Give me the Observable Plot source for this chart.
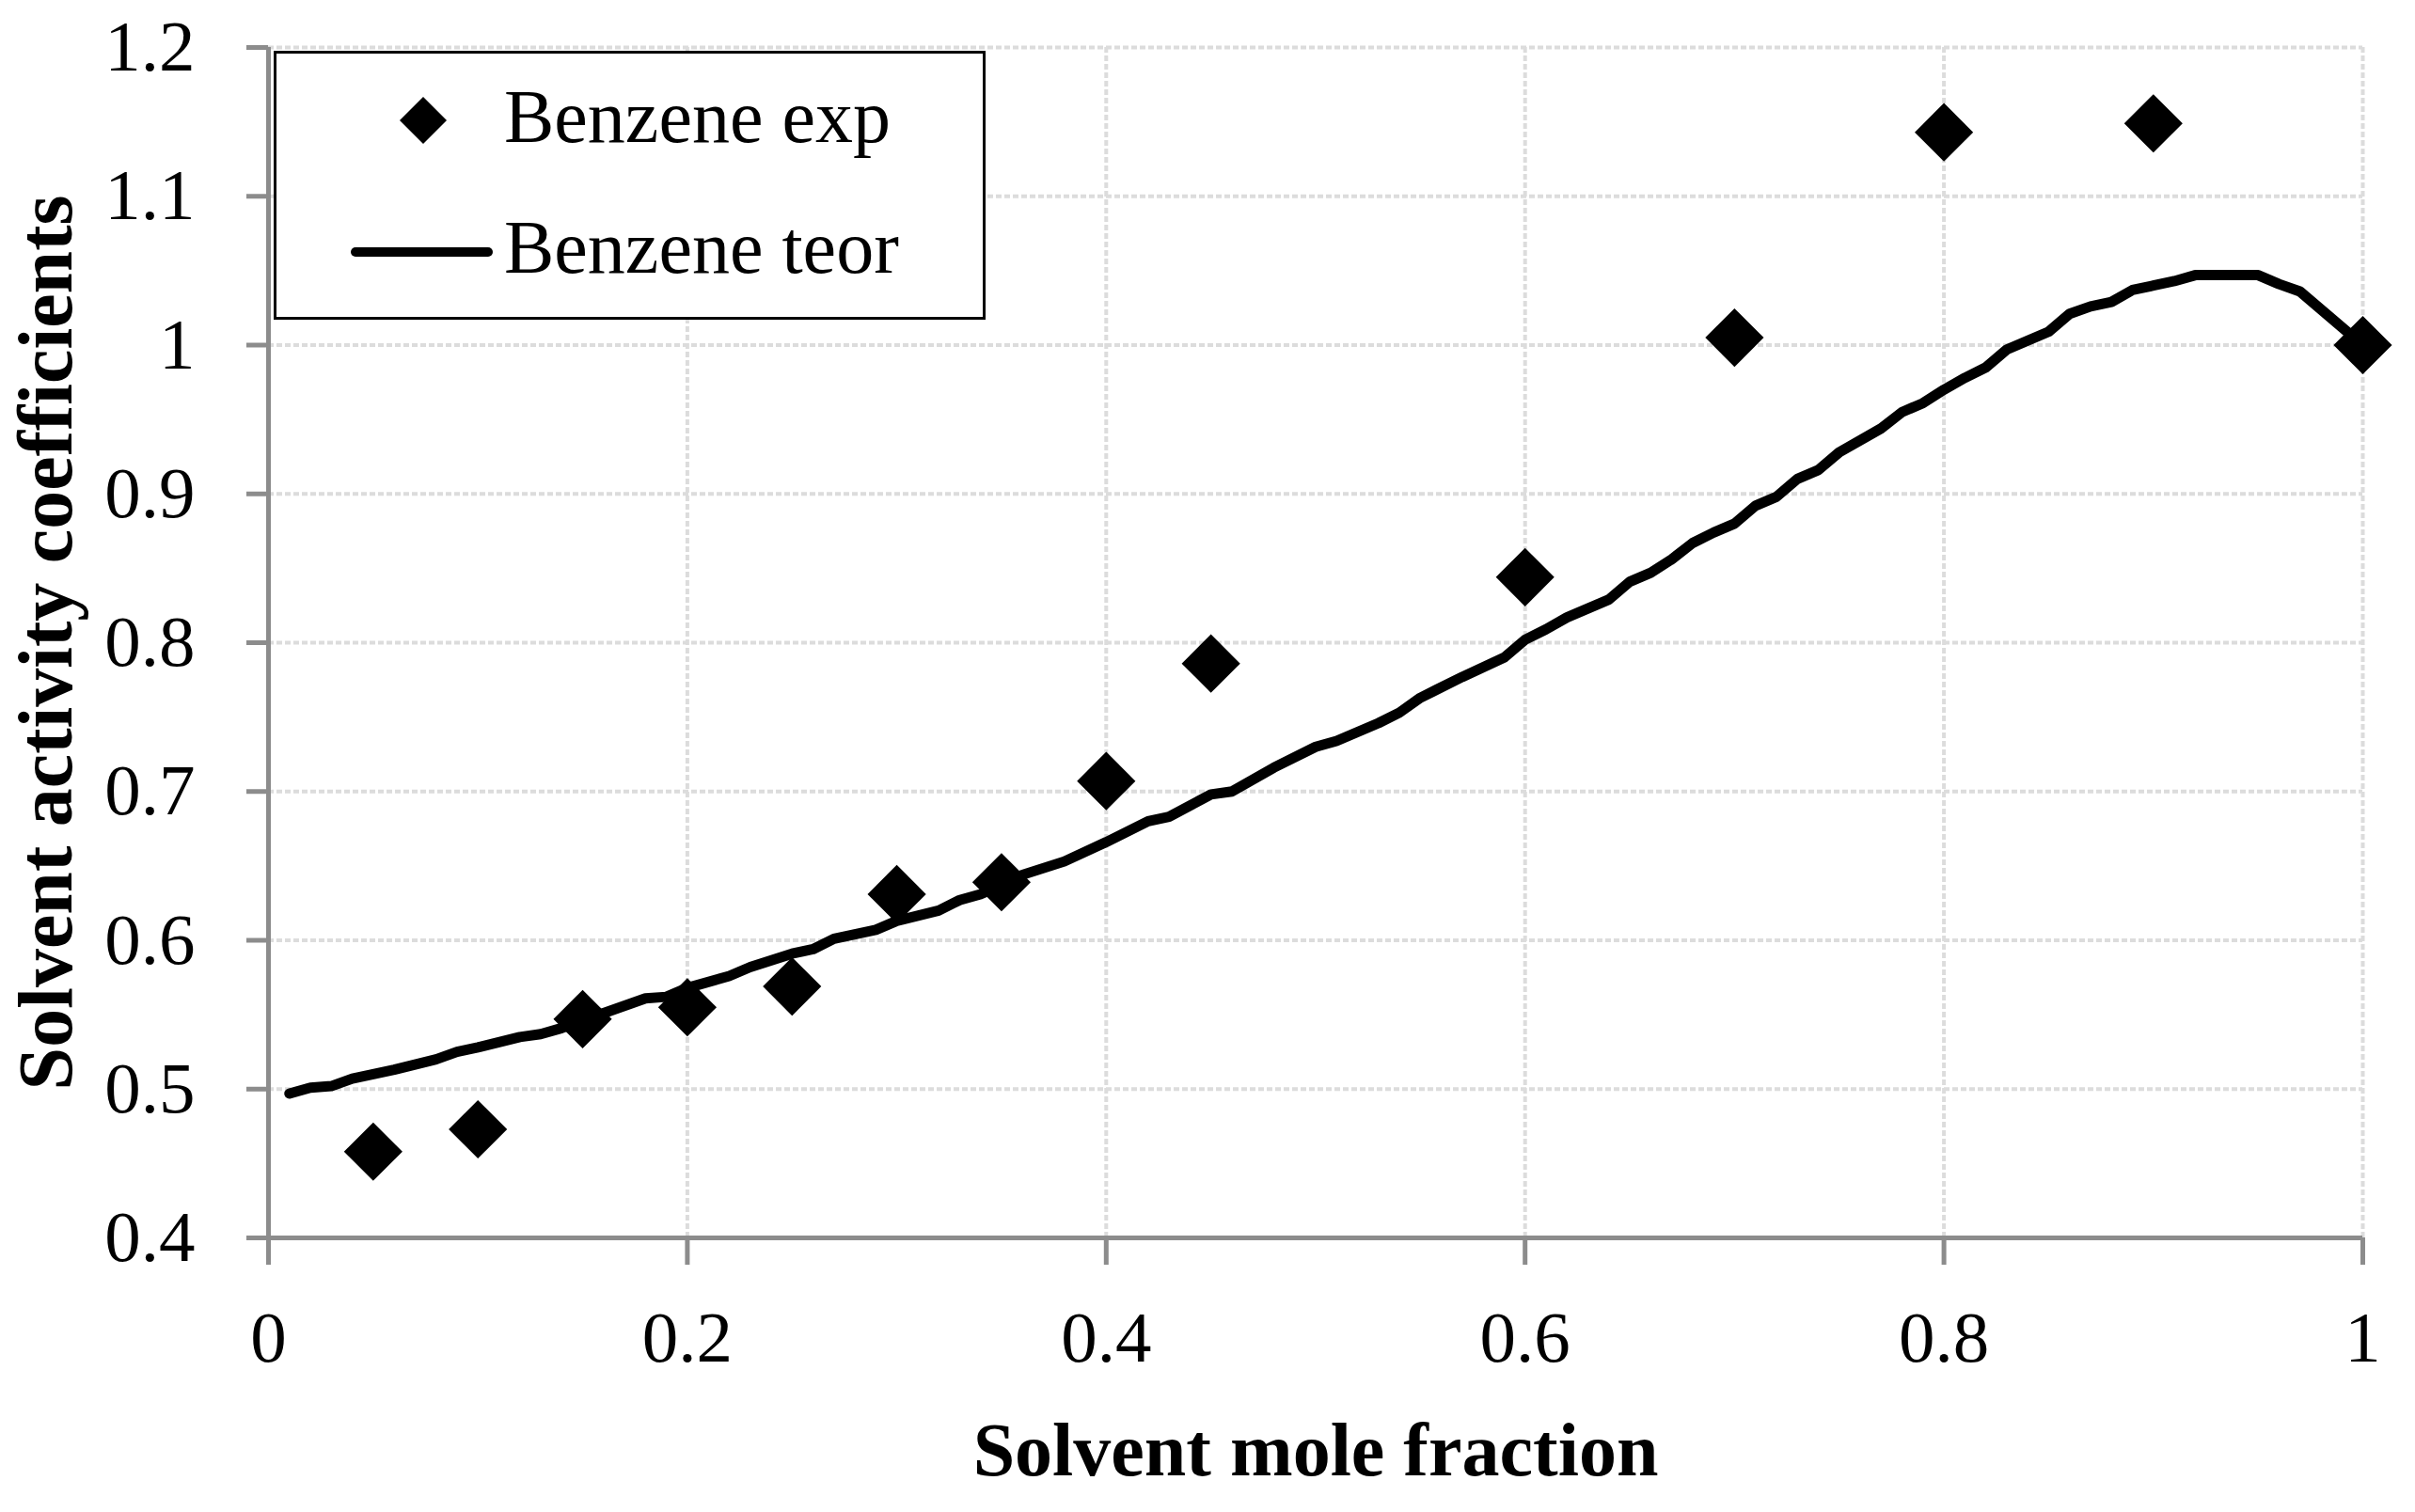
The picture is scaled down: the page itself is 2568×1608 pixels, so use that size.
<!DOCTYPE html>
<html>
<head>
<meta charset="utf-8">
<script src="https://cdn.jsdelivr.net/npm/d3@7"></script>
<script src="https://cdn.jsdelivr.net/npm/@observablehq/plot@0.6"></script>
<style>
html, body { margin: 0; padding: 0; background: #fff; }
#wrap { position: relative; width: 2568px; height: 1608px; }
#legend { position: absolute; left: 291px; top: 54px; width: 757px; height: 286px; box-sizing: border-box; border: 3px solid #000; background: #fff; }
#legend svg { position: absolute; left: -3px; top: -3px; overflow: visible; }
</style>
</head>
<body>
<div id="wrap"><div id="legend"></div></div>
<script>
// Experimental points (Benzene exp)
const expX = [0.05, 0.10, 0.15, 0.20, 0.25, 0.30, 0.35, 0.40, 0.45, 0.60, 0.70, 0.80, 0.90, 1.00];
const expY = [0.458, 0.473, 0.547, 0.555, 0.569, 0.631, 0.639, 0.707, 0.786, 0.844, 1.005, 1.143, 1.149, 1.000];

// Theoretical curve (Benzene teor)
const teorX = [0.01, 0.02, 0.03, 0.04, 0.06, 0.08, 0.09, 0.10, 0.12, 0.13, 0.14, 0.15, 0.16, 0.18, 0.19,
  0.20, 0.22, 0.23, 0.25, 0.26, 0.27, 0.29, 0.30, 0.32, 0.33, 0.34, 0.35, 0.36, 0.38, 0.40,
  0.42, 0.43, 0.45, 0.46, 0.48, 0.50, 0.51, 0.53, 0.54, 0.55, 0.57, 0.59, 0.60, 0.61, 0.62,
  0.64, 0.65, 0.66, 0.67, 0.68, 0.69, 0.70, 0.71, 0.72, 0.73, 0.74, 0.75, 0.77, 0.78, 0.79,
  0.80, 0.81, 0.82, 0.83, 0.85, 0.86, 0.87, 0.88, 0.89, 0.90, 0.91, 0.92, 0.95, 0.96, 0.97, 1.00];
const teorY = [0.497, 0.501, 0.502, 0.507, 0.513, 0.520, 0.525, 0.528, 0.535, 0.537, 0.541, 0.546, 0.551, 0.561, 0.562,
  0.568, 0.576, 0.582, 0.591, 0.594, 0.601, 0.607, 0.613, 0.620, 0.627, 0.631, 0.637, 0.644, 0.653, 0.666,
  0.680, 0.683, 0.698, 0.700, 0.716, 0.730, 0.734, 0.746, 0.753, 0.763, 0.777, 0.790, 0.802, 0.809, 0.817,
  0.829, 0.841, 0.847, 0.856, 0.867, 0.874, 0.880, 0.892, 0.898, 0.910, 0.916, 0.928, 0.944, 0.955, 0.961,
  0.970, 0.978, 0.985, 0.997, 1.009, 1.021, 1.026, 1.029, 1.037, 1.040, 1.043, 1.047, 1.047, 1.041, 1.036, 1.000];

const xTicks = [0, 0.2, 0.4, 0.6, 0.8, 1];
const yTicks = [0.4, 0.5, 0.6, 0.7, 0.8, 0.9, 1, 1.1, 1.2];
const xGrid = [0.2, 0.4, 0.6, 0.8, 1];
const yGrid = [0.5, 0.6, 0.7, 0.8, 0.9, 1, 1.1, 1.2];
const xTitle = "Solvent mole fraction";
const yTitle = "Solvent activity coefficients";
const seriesNames = ["Benzene exp", "Benzene teor"];

const expData = expX.map((x, i) => ({x, y: expY[i]}));
const teorData = teorX.map((x, i) => ({x, y: teorY[i]}));

const axisColor = "#8c8c8c";
const gridColor = "#dcdcdc";
const serif = "'Liberation Serif', 'Times New Roman', serif";

const chart = Plot.plot({
  width: 2568,
  height: 1608,
  marginLeft: 285,
  marginRight: 56,
  marginTop: 50,
  marginBottom: 292,
  style: {background: "white", fontFamily: serif, color: "black"},
  x: {domain: [0, 1]},
  y: {domain: [0.4, 1.2]},
  marks: [
    Plot.gridX(xGrid, {stroke: gridColor, strokeOpacity: 1, strokeWidth: 4, strokeDasharray: "6,3"}),
    Plot.gridY(yGrid, {stroke: gridColor, strokeOpacity: 1, strokeWidth: 4, strokeDasharray: "6,3"}),
    Plot.axisX(xTicks, {tickSize: 29, tickPadding: 48, stroke: axisColor, strokeWidth: 5, fill: "black",
      fontSize: 77, tickFormat: d => String(d), label: null}),
    Plot.axisY(yTicks, {tickSize: 23, tickPadding: 55, stroke: axisColor, strokeWidth: 5, fill: "black",
      fontSize: 77, tickFormat: d => String(d), label: null}),
    Plot.ruleX([0], {stroke: axisColor, strokeWidth: 5}),
    Plot.ruleY([0.4], {stroke: axisColor, strokeWidth: 5}),
    Plot.line(teorData, {x: "x", y: "y", stroke: "black", strokeWidth: 11, strokeLinejoin: "round", strokeLinecap: "round"}),
    Plot.dot(expData, {x: "x", y: "y", symbol: "diamond2", r: 28, fill: "black", stroke: "none"}),
    Plot.text([yTitle], {frameAnchor: "left", textAnchor: "middle", rotate: -90, dx: -236, fontSize: 82, fontWeight: "bold", fill: "black"}),
    Plot.text([xTitle], {frameAnchor: "bottom", textAnchor: "middle", dy: 252, fontSize: 80, fontWeight: "bold", fill: "black"})
  ]
});
document.getElementById("wrap").prepend(chart);

// Legend (inside the plot area, top-left)
const lg = d3.select("#legend").append("svg").attr("width", 757).attr("height", 286);
const dSize = 25;
lg.append("path")
  .attr("d", `M159,${74 - dSize}L${159 + dSize},74L159,${74 + dSize}L${159 - dSize},74Z`)
  .attr("fill", "black");
lg.append("line").attr("x1", 87).attr("x2", 228).attr("y1", 214).attr("y2", 214)
  .attr("stroke", "black").attr("stroke-width", 10).attr("stroke-linecap", "round");
lg.selectAll("text.lab").data(seriesNames).join("text")
  .attr("class", "lab")
  .attr("x", 245)
  .attr("y", (d, i) => i === 0 ? 97 : 236)
  .attr("font-family", serif)
  .attr("font-size", 80)
  .attr("fill", "black")
  .text(d => d);
</script>
</body>
</html>
